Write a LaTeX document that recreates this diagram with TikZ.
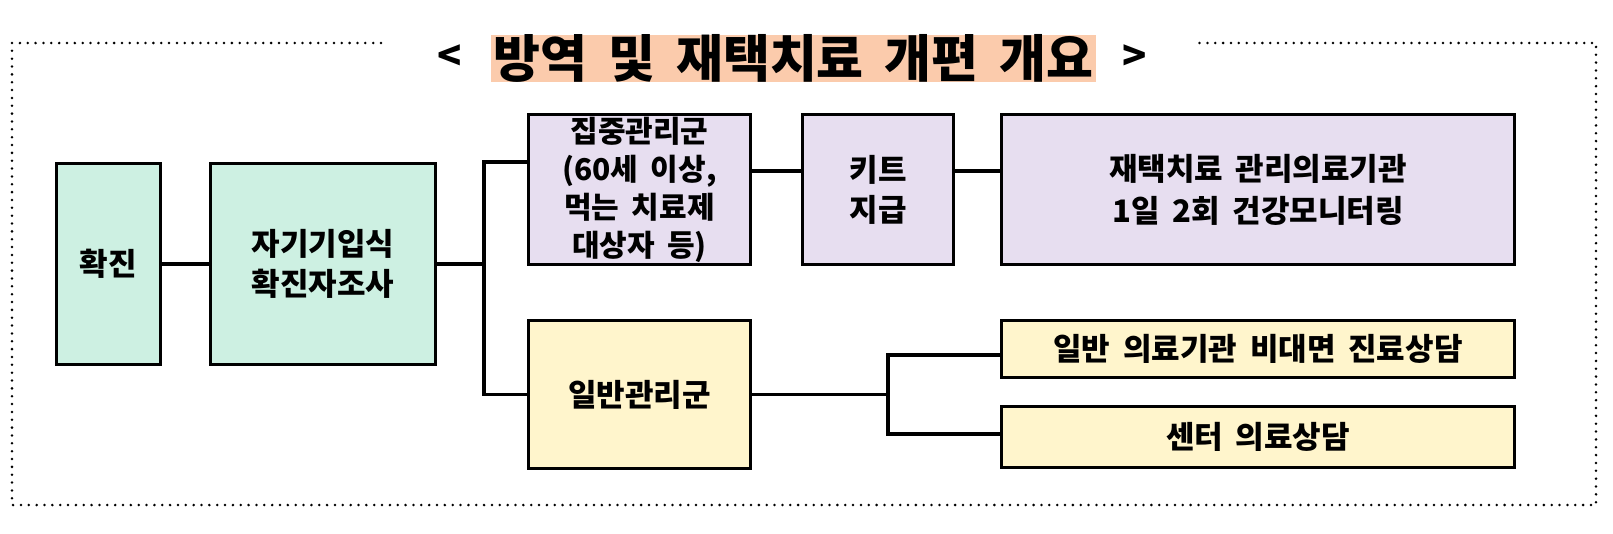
\documentclass[tikz,border=0pt]{standalone}
\usepackage{fontspec}
\setmainfont{Noto Sans CJK KR}[WordSpace=1.8]
\usepackage{xcolor}
\usepackage{tikz}

\definecolor{mint}{RGB}{205,240,226}
\definecolor{lilac}{RGB}{231,222,240}
\definecolor{cream}{RGB}{255,245,204}
\definecolor{peach}{RGB}{251,203,172}

\begin{document}
\begin{tikzpicture}[x=1pt,y=-1pt,
    box/.style={draw,line width=3.6pt,inner sep=0pt,align=center,
        font=\fontsize{31}{40}\selectfont\bfseries},
    wire/.style={line width=3.6pt},
    dotline/.style={line width=2.8pt,line cap=round,dash pattern=on 0pt off 7.85pt}]
                \useasboundingbox (0,0) rectangle (1613,533);
                % outer frame
                \draw[dotline] (381,43) -- (12,43) -- (12,505) -- (1596,505) -- (1596,43) -- (1197,43);
                
                % title
                \node[fill=peach,inner sep=0pt,minimum width=605pt,minimum height=47pt,
                    font=\fontsize{51}{51}\selectfont\bfseries] (title) at (793.5,58.5) {방역 및 재택치료 개편 개요};
                \node[font=\fontsize{40}{40}\selectfont\bfseries] (lt) at (450,58) {<};
                \node[font=\fontsize{40}{40}\selectfont\bfseries] (gt) at (1135,58) {>};
                
                % boxes
                \node[box,fill=mint,minimum width=104pt,minimum height=201pt] (hwak) at (108.5,264) {확진};
                \node[box,fill=mint,minimum width=225pt,minimum height=201pt] (jagi) at (323,264) {자기기입식\\확진자조사};
                \node[box,fill=lilac,minimum width=222pt,minimum height=150pt,
                    font=\fontsize{30}{38}\selectfont\bfseries] (jipjung) at (639.5,189.5) {집중관리군\\(60세 이상,\\먹는 치료제\\대상자 등)};
                \node[box,fill=lilac,minimum width=151pt,minimum height=150pt] (kit) at (878,189.5) {키트\\지급};
                \node[box,fill=lilac,minimum width=513pt,minimum height=150pt,
                    font=\fontsize{31}{42}\selectfont\bfseries] (jaetaek) at (1258,189.5) {재택치료 관리의료기관\\1일 2회 건강모니터링};
                \node[box,fill=cream,minimum width=222pt,minimum height=148pt] (ilban) at (639.5,394.5) {일반관리군};
                \node[box,fill=cream,minimum width=513pt,minimum height=57pt] (clinic) at (1258,349) {일반 의료기관 비대면 진료상담};
                \node[box,fill=cream,minimum width=513pt,minimum height=61pt] (center) at (1258,437) {센터 의료상담};
                
                % connectors
                \coordinate (fork1) at (484,264);
                \coordinate (fork2) at (888,394.5);
                \draw[wire] (hwak) -- (jagi);
                \draw[wire] (jagi.east) -- (fork1) |- ([yshift=27.5pt]jipjung.west);
                \draw[wire] (fork1) |- (ilban.west);
                \draw[wire] ([yshift=18.5pt]jipjung.east) -- ([yshift=18.5pt]kit.west);
                \draw[wire] ([yshift=18.5pt]kit.east) -- ([yshift=18.5pt]jaetaek.west);
                \draw[wire] (ilban.east) -- (fork2) |- ([yshift=-6pt]clinic.west);
                \draw[wire] (fork2) |- ([yshift=3pt]center.west);
            \end{tikzpicture}
\end{document}
